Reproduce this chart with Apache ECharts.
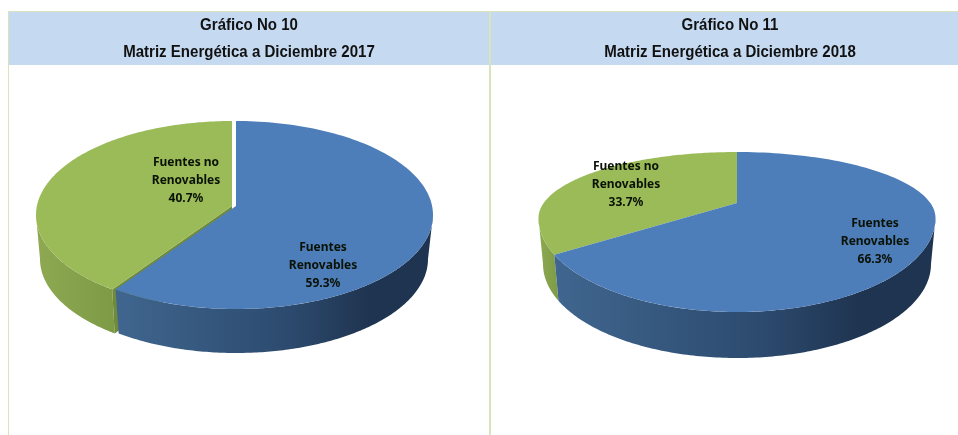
<!DOCTYPE html>
<html>
<head>
<meta charset="utf-8">
<style>html,body{margin:0;padding:0;background:#fff}#c{width:958px;height:435px}</style>
<script src="https://cdn.jsdelivr.net/npm/echarts@6/dist/echarts.min.js"></script>
</head>
<body>
<div id="c"></div>
<script>
// ---- data ----
const categories = ['Fuentes\nRenovables', 'Fuentes no\nRenovables'];
const values2017 = [59.3, 40.7];
const values2018 = [66.3, 33.7];
const titles2017 = ['Gráfico No 10', 'Matriz Energética a Diciembre 2017'];
const titles2018 = ['Gráfico No 11', 'Matriz Energética a Diciembre 2018'];

// ---- styling / geometry of the fake 3D pies ----
const topColors = ['#4d7eba', '#9bbb59'];
const wallStops = [
  [[0, '#40668f'], [0.55, '#2c4a6e'], [0.8, '#1f3450'], [1, '#1f3450']],
  [[0, '#8ea952'], [1, '#7d9a45']]
];
const cutColor = '#6f8a3b';
const labelColor = '#0a1205';
const pie2017 = {
  cx: [236, 232], rx: [197, 196], yMid: 215, ryTop: 94, ryBot: 94, apexY: 206, k: 1.134,
  rxB: 192, yMidB: 259, ryB: 94, cut: true,
  labels: [[323, 266], [186, 181]]
};
const pie2018 = {
  cx: [737, 737], rx: [198.5, 198.5], yMid: 218, ryTop: 66, ryBot: 94, apexY: 203, k: 1.177,
  rxB: 194, yMidB: 264, ryB: 94, cut: false,
  labels: [[875, 242], [626, 185]]
};

function rimAngle(theta, k) {
  const fromBottom = Math.PI - theta;
  if (Math.abs(fromBottom) > Math.PI - 1e-6) return theta;
  return Math.PI - 2 * Math.atan(k * Math.tan(fromBottom / 2));
}
function topAt(g, i, p) {
  const c = -Math.cos(p);
  return [g.cx[i] + g.rx[i] * Math.sin(p), g.yMid + (c < 0 ? g.ryTop : g.ryBot) * c];
}
function bottomAt(g, i, p) {
  return [g.cx[i] + g.rxB * Math.sin(p), g.yMidB - g.ryB * Math.cos(p)];
}

function makeRender(values, g) {
  const total = values.reduce((a, b) => a + b, 0);
  return function (params, api) {
    const i = params.dataIndex;
    const v = api.value(0);
    let before = 0;
    for (let j = 0; j < i; j++) before += values[j];
    const a0 = rimAngle(before / total * 2 * Math.PI, g.k);
    const a1 = rimAngle((before + v) / total * 2 * Math.PI, g.k);
    const steps = 160, top = [], wallTop = [], wallBottom = [];
    for (let s = 0; s <= steps; s++) {
      const p = a0 + (a1 - a0) * s / steps;
      top.push(topAt(g, i, p));
    }
    const f0 = Math.max(a0, Math.PI / 2), f1 = Math.min(a1, Math.PI * 1.5);
    for (let s = 0; s <= steps; s++) {
      const p = f0 + (f1 - f0) * s / steps;
      wallTop.push(topAt(g, i, p));
      wallBottom.push(bottomAt(g, i, p));
    }
    const apex = [g.cx[i], g.apexY];
    const base = i === 0 ? 4 : 1;
    const children = [
      { type: 'polygon', z2: base,
        shape: { points: wallTop.concat(wallBottom.slice().reverse()) },
        style: { fill: { type: 'linear', x: 0, y: 0, x2: 1, y2: 0, colorStops: wallStops[i].map(s => ({ offset: s[0], color: s[1] })) } } },
      { type: 'polygon', z2: base + 2,
        shape: { points: [apex].concat(top) },
        style: { fill: topColors[i] } },
      { type: 'text', z2: 10,
        style: {
          x: g.labels[i][0], y: g.labels[i][1],
          text: categories[i] + '\n' + v.toFixed(1) + '%',
          fill: labelColor, font: 'bold 12px "Noto Sans"', lineHeight: 18,
          align: 'center', verticalAlign: 'middle'
        } }
    ];
    if (g.cut && i === 1) {
      const r = topAt(g, i, a0), b = bottomAt(g, i, a0);
      children.push({ type: 'polygon', z2: base + 1,
        shape: { points: [apex, r, b, [apex[0], apex[1] + (b[1] - r[1])]] },
        style: { fill: cutColor } });
    }
    return { type: 'group', children };
  };
}

const border = '#d7e4bc';
function titleText(text, x, y) {
  return { type: 'text', z: 2, x, y, scaleX: 0.94,
    style: { text, fill: '#111', font: 'bold 16px "Liberation Sans"', align: 'center', verticalAlign: 'middle' } };
}

const chart = echarts.init(document.getElementById('c'), null, { renderer: 'canvas' });
chart.setOption({
  animation: false,
  backgroundColor: '#fff',
  graphic: [
    { type: 'rect', z: 0, shape: { x: 9, y: 12, width: 949, height: 53 }, style: { fill: '#c5d9f1' } },
    { type: 'rect', z: 1, shape: { x: 8, y: 11, width: 950, height: 1 }, style: { fill: border } },
    { type: 'rect', z: 1, shape: { x: 8, y: 11, width: 1, height: 424 }, style: { fill: border } },
    { type: 'rect', z: 1, shape: { x: 489, y: 11, width: 2, height: 424 }, style: { fill: border } },
    titleText(titles2017[0], 249, 26),
    titleText(titles2017[1], 249, 53),
    titleText(titles2018[0], 730, 26),
    titleText(titles2018[1], 730, 53)
  ],
  series: [
    { type: 'custom', name: '2017', coordinateSystem: 'none', silent: true,
      renderItem: makeRender(values2017, pie2017), data: values2017.map(v => [v]) },
    { type: 'custom', name: '2018', coordinateSystem: 'none', silent: true,
      renderItem: makeRender(values2018, pie2018), data: values2018.map(v => [v]) }
  ]
});
</script>
</body>
</html>
